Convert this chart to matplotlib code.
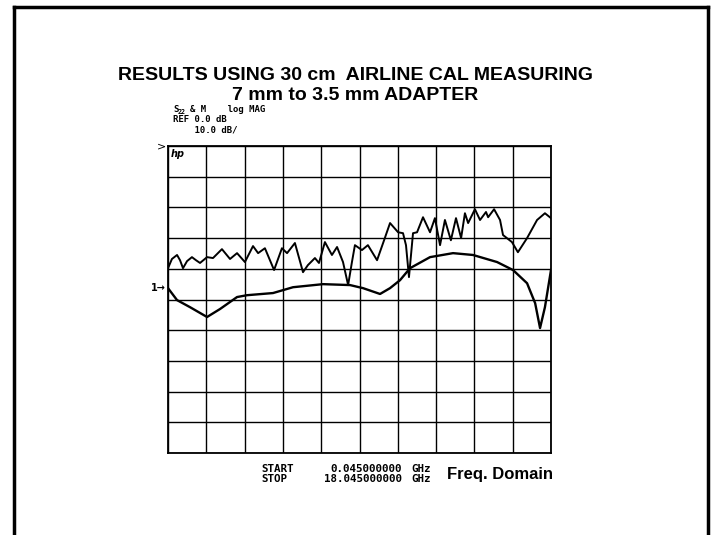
import numpy as np
import matplotlib
matplotlib.use("Agg")
import matplotlib.pyplot as plt
from matplotlib.lines import Line2D
from matplotlib.transforms import blended_transform_factory

# Sweep settings (GHz) and display scale
start_ghz = 0.045
stop_ghz = 18.045
ref_db = 0.0
db_per_div = 10.0
ref_div_from_top = 4.63

# S22 trace (ripple)
s22_freq = [0.045, 0.23, 0.47, 0.61, 0.75, 0.94, 1.17, 1.36, 1.55, 1.88, 2.16, 2.58, 2.96,
            3.29, 3.66, 4.04, 4.28, 4.60, 5.03, 5.40, 5.64, 6.01, 6.39, 6.62, 6.95, 7.14,
            7.42, 7.75, 7.99, 8.27, 8.51, 8.69, 8.83, 9.16, 9.44, 9.87, 10.20, 10.48, 10.86,
            11.09, 11.23, 11.37, 11.56, 11.75, 12.03, 12.36, 12.59, 12.83, 13.06, 13.34,
            13.58, 13.82, 14.00, 14.15, 14.47, 14.71, 14.99, 15.09, 15.37, 15.65, 15.79,
            16.21, 16.49, 16.92, 17.39, 17.76, 18.045]
s22_db = [6.5, 9.5, 10.8, 9.1, 6.5, 8.8, 10.1, 9.1, 8.2, 10.1, 9.8, 12.7, 9.5,
          11.4, 8.5, 13.7, 11.4, 13.0, 5.9, 13.0, 11.4, 14.7, 5.2, 7.5, 9.8, 8.2,
          15.0, 10.8, 13.4, 8.5, 1.0, 8.5, 14.0, 12.4, 14.0, 9.1, 15.6, 21.2, 18.2,
          17.9, 14.0, 3.6, 17.9, 18.2, 23.1, 18.2, 22.8, 14.0, 22.2, 15.6,
          22.8, 16.3, 24.4, 21.2, 25.7, 22.2, 24.8, 23.1, 25.7, 22.2, 17.3,
          15.0, 11.7, 16.3, 22.2, 24.4, 22.8]

# M trace (smooth)
m_freq = [0.045, 0.47, 1.08, 1.88, 2.49, 3.29, 3.76, 4.98, 5.92, 7.33, 8.60, 9.21, 10.01,
          10.48, 10.95, 11.42, 12.36, 13.44, 14.38, 15.51, 16.26, 16.92, 17.30, 17.53,
          17.76, 18.045]
m_db = [0.0, -3.9, -6.2, -9.4, -6.8, -2.9, -2.3, -1.6, 0.3, 1.3, 1.0, 0.0, -1.9,
        0.0, 2.6, 6.5, 10.1, 11.4, 10.8, 8.5, 5.9, 1.6, -4.9, -13.0,
        -6.2, 5.9]

W, H = 712, 535
fig = plt.figure(figsize=(W / 100, H / 100), dpi=100)

ax = fig.add_axes([168 / W, 1 - 453 / H, 383 / W, 307 / H])
top = ref_db + ref_div_from_top * db_per_div
bottom = top - 10 * db_per_div
ax.set_xlim(start_ghz, stop_ghz)
ax.set_ylim(bottom, top)
ax.set_xticks(np.linspace(start_ghz, stop_ghz, 11))
ax.set_yticks(np.linspace(bottom, top, 11))
ax.grid(True, color="black", linewidth=1.0)
ax.tick_params(length=0, labelbottom=False, labelleft=False)
for sp in ax.spines.values():
    sp.set_linewidth(1.3)

ax.plot(s22_freq, s22_db, color="black", linewidth=1.4, solid_joinstyle="round")
ax.plot(m_freq, m_db, color="black", linewidth=1.7, solid_joinstyle="round")

# reference marker and hp logo
trans = blended_transform_factory(ax.transAxes, ax.transData)
ax.text(-0.006, ref_db, "1\u2192", transform=trans, ha="right", va="center",
        fontsize=7, fontweight="bold", family="DejaVu Sans")
ax.text(0.008, 0.99, "hp", transform=ax.transAxes, ha="left", va="top",
        fontsize=7, style="italic", fontweight="bold")
ax.text(-0.006, 1.0, ">", transform=ax.transAxes, ha="right", va="center",
        fontsize=8)

# page frame
lw = 2.5
fig.add_artist(Line2D([14 / W, 14 / W], [0, 1 - 7 / H], color="black", linewidth=lw))
fig.add_artist(Line2D([708 / W, 708 / W], [0, 1 - 7 / H], color="black", linewidth=lw))
fig.add_artist(Line2D([14 / W, 708 / W], [1 - 7 / H, 1 - 7 / H], color="black", linewidth=lw))

# titles
title_font = dict(family="Liberation Sans", fontweight="bold", fontsize=14)
fig.text(355 / W, 1 - 75 / H, "RESULTS USING 30 cm  AIRLINE CAL MEASURING",
         ha="center", va="center", **title_font)
fig.text(355 / W, 1 - 96 / H, "7 mm to 3.5 mm ADAPTER",
         ha="center", va="center", **title_font)

# analyzer annotation, plotter-style lettering
small = dict(family="DejaVu Sans Mono", fontsize=6.5, fontweight="bold")
fig.text(173 / W, 1 - 110 / H, "S", ha="left", va="center", **small)
fig.text(178 / W, 1 - 112 / H, "22", ha="left", va="center",
         family="DejaVu Sans Mono", fontsize=4.8, fontweight="bold")
fig.text(190 / W, 1 - 110 / H, "& M    log MAG", ha="left", va="center", **small)
fig.text(173 / W, 1 - 120 / H, "REF 0.0 dB", ha="left", va="center", **small)
fig.text(173 / W, 1 - 130 / H, "    10.0 dB/", ha="left", va="center", **small)

mono = dict(family="DejaVu Sans Mono", fontsize=7.8, fontweight="bold")
fig.text(261 / W, 1 - 469 / H, "START", ha="left", va="center", **mono)
fig.text(261 / W, 1 - 479 / H, "STOP", ha="left", va="center", **mono)
fig.text(402 / W, 1 - 469 / H, f"{start_ghz:.9f}", ha="right", va="center", **mono)
fig.text(402 / W, 1 - 479 / H, f"{stop_ghz:.9f}", ha="right", va="center", **mono)
fig.text(411 / W, 1 - 469 / H, "GHz", ha="left", va="center", **mono)
fig.text(411 / W, 1 - 479 / H, "GHz", ha="left", va="center", **mono)
fig.text(447 / W, 1 - 474 / H, "Freq. Domain", ha="left", va="center",
         family="Liberation Sans", fontweight="bold", fontsize=12)

fig.savefig("out.png", dpi=100)
